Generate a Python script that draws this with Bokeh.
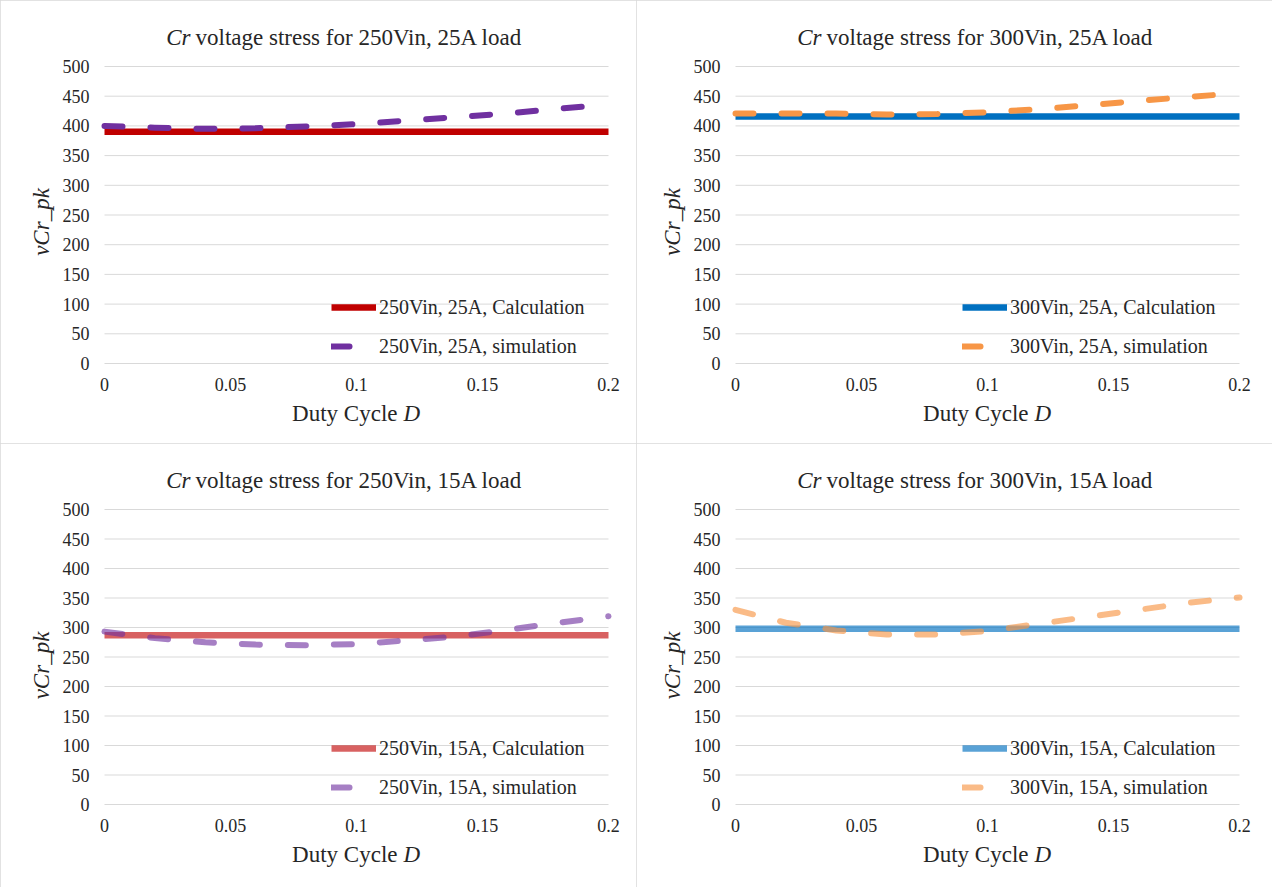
from bokeh.plotting import figure
from bokeh.layouts import gridplot
from bokeh.models import Range1d, FixedTicker, Label, Legend, LegendItem
from bokeh.embed import file_html
from bokeh.resources import INLINE

# ---------------- data ----------------
duty = [0.0, 0.02, 0.04, 0.06, 0.08, 0.10, 0.12, 0.14, 0.16, 0.18, 0.20]

calc_250_25 = [390, 390, 390, 390, 390, 390, 390, 390, 390, 390, 390]
sim_250_25 = [400, 397, 395, 396, 399, 403, 409, 415, 421, 429, 436]

calc_300_25 = [416, 416, 416, 416, 416, 416, 416, 416, 416, 416, 416]
sim_300_25 = [421, 421, 421, 419, 420, 423, 428, 435, 442, 449, 455]

calc_250_15 = [287, 287, 287, 287, 287, 287, 287, 287, 287, 287, 287]
sim_250_15 = [293, 282, 275, 271, 270, 272, 278, 285, 296, 308, 319]

calc_300_15 = [298, 298, 298, 298, 298, 298, 298, 298, 298, 298, 298]
sim_300_15 = [330, 308, 295, 288, 288, 294, 306, 318, 330, 342, 351]

x_ticks = [0, 0.05, 0.1, 0.15, 0.2]
x_tick_labels = ["0", "0.05", "0.1", "0.15", "0.2"]
y_ticks = [0, 50, 100, 150, 200, 250, 300, 350, 400, 450, 500]

titles = ["voltage stress for 250Vin, 25A load",
          "voltage stress for 300Vin, 25A load",
          "voltage stress for 250Vin, 15A load",
          "voltage stress for 300Vin, 15A load"]
calc_labels = ["250Vin, 25A, Calculation", "300Vin, 25A, Calculation",
               "250Vin, 15A, Calculation", "300Vin, 15A, Calculation"]
sim_labels = ["250Vin, 25A, simulation", "300Vin, 25A, simulation",
              "250Vin, 15A, simulation", "300Vin, 15A, simulation"]

FONT = "'Liberation Serif', serif"
TXT = "#262626"
GRID = "#d9d9d9"
X_MAX = 0.2
Y_MAX = 500


def make_panel(title_rest, calc, sim, calc_color, sim_color, alpha, calc_label, sim_label,
               width, height, b_left, b_right, top_px, zero_px):
    # the frame is stretched so the titles / end tick labels can live inside it
    bt, bb = 4, 4
    pad = 14                                          # extra px left/right of the data area
    plot_w = width - b_left - b_right                 # px from x=0 to x=X_MAX
    xs = X_MAX / plot_w                                # data units per px
    scale = (zero_px - top_px) / Y_MAX                 # px per y unit
    y_top = Y_MAX + (top_px - bt) / scale
    y_bot = -(height - bb - zero_px) / scale

    def xd(px):
        return xs * px

    p = figure(width=width, height=height, output_backend="svg", toolbar_location=None,
               x_range=Range1d(-pad * xs, X_MAX + pad * xs), y_range=Range1d(y_bot, y_top),
               min_border_left=b_left - pad, min_border_right=b_right - pad,
               min_border_top=bt, min_border_bottom=bb)
    p.outline_line_color = None
    p.background_fill_color = "white"
    p.border_fill_color = "white"
    p.styles = {"outline": "1px solid #d9d9d9", "outline-offset": "-1px"}

    p.xgrid.grid_line_color = None
    p.ygrid.grid_line_color = None
    # horizontal gridlines spanning exactly the x range of the data area
    p.segment(x0=0, x1=X_MAX, y0=y_ticks, y1=y_ticks, line_color=GRID, line_width=1)

    p.xaxis.ticker = FixedTicker(ticks=x_ticks)
    p.xaxis.major_label_overrides = {t: l for t, l in zip(x_ticks, x_tick_labels)}
    p.xaxis.fixed_location = 0
    p.yaxis.ticker = FixedTicker(ticks=y_ticks)
    p.yaxis.bounds = (0, Y_MAX)
    for ax in [p.xaxis[0], p.yaxis[0]]:
        ax.axis_line_color = None
        ax.major_tick_line_color = None
        ax.minor_tick_line_color = None
        ax.major_tick_out = 0
        ax.major_tick_in = 0
        ax.minor_tick_out = 0
        ax.major_label_text_font = FONT
        ax.major_label_text_font_size = "18px"
        ax.major_label_text_color = TXT
    p.yaxis.major_label_standoff = 15 - pad
    p.xaxis.major_label_standoff = 14

    p.yaxis.axis_label = "vCr_pk"
    p.yaxis.axis_label_text_font = FONT
    p.yaxis.axis_label_text_font_style = "italic"
    p.yaxis.axis_label_text_font_size = "23px"
    p.yaxis.axis_label_text_color = TXT
    p.yaxis.axis_label_standoff = 6

    r1 = p.line(duty, calc, line_color=calc_color, line_width=6.5, line_alpha=alpha)
    r2 = p.line(duty, sim, line_color=sim_color, line_width=6, line_alpha=alpha,
                line_dash="18 28", line_cap="round", line_join="round")

    # title with italic "Cr"
    ty = Y_MAX + 29 / scale
    p.add_layout(Label(x=xd(86), y=ty, text="Cr", text_font=FONT, text_font_style="italic",
                       text_font_size="23px", text_color=TXT, text_align="right",
                       text_baseline="middle"))
    p.add_layout(Label(x=xd(91), y=ty, text=title_rest, text_font=FONT,
                       text_font_size="23px", text_color=TXT, text_align="left",
                       text_baseline="middle"))
    # x axis label "Duty Cycle D"
    ly = -50 / scale
    p.add_layout(Label(x=xd(293), y=ly, text="Duty Cycle", text_font=FONT,
                       text_font_size="23px", text_color=TXT, text_align="right",
                       text_baseline="middle"))
    p.add_layout(Label(x=xd(299), y=ly, text="D", text_font=FONT, text_font_style="italic",
                       text_font_size="23px", text_color=TXT, text_align="left",
                       text_baseline="middle"))

    legend = Legend(items=[LegendItem(label=calc_label, renderers=[r1]),
                           LegendItem(label=sim_label, renderers=[r2])],
                    location=(227 + pad, 5 + (height - bb - zero_px)), orientation="vertical")
    legend.background_fill_alpha = 0
    legend.border_line_color = None
    legend.padding = 0
    legend.margin = 0
    legend.glyph_width = 45
    legend.glyph_height = 24
    legend.label_height = 24
    legend.spacing = 15
    legend.label_standoff = 3
    legend.label_text_font = FONT
    legend.label_text_font_size = "20px"
    legend.label_text_color = TXT
    p.add_layout(legend)
    return p


p1 = make_panel(titles[0], calc_250_25, sim_250_25, "#C00000", "#7030A0", 1.0,
                calc_labels[0], sim_labels[0], 636, 443, 104, 28, 66, 363)
p2 = make_panel(titles[1], calc_300_25, sim_300_25, "#0070C0", "#F79646", 1.0,
                calc_labels[1], sim_labels[1], 636, 443, 99, 33, 66, 363)
p3 = make_panel(titles[2], calc_250_15, sim_250_15, "#C00000", "#7030A0", 0.62,
                calc_labels[2], sim_labels[2], 636, 444, 104, 28, 66, 361)
p4 = make_panel(titles[3], calc_300_15, sim_300_15, "#0070C0", "#F79646", 0.65,
                calc_labels[3], sim_labels[3], 636, 444, 99, 33, 66, 361)

grid = gridplot([[p1, p2], [p3, p4]], toolbar_location=None)
open("out.html", "w").write(file_html(grid, INLINE))
